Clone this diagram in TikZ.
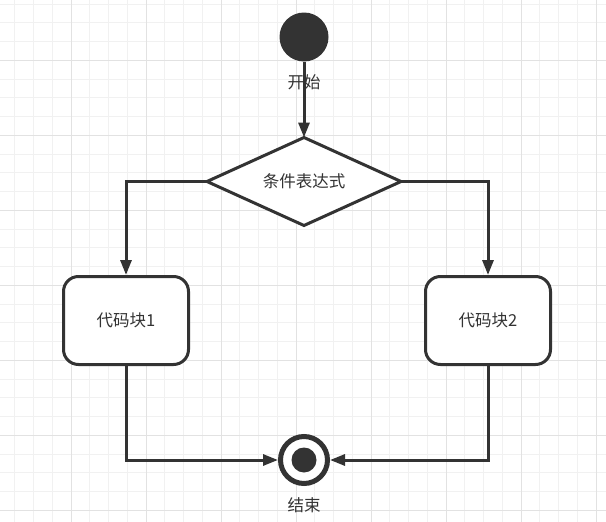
\documentclass[tikz,border=0pt]{standalone}
\usepackage{fontspec}
\newfontfamily\cjk{Noto Sans CJK SC}
\usetikzlibrary{shapes.geometric,arrows.meta}
\definecolor{ink}{HTML}{333333}
\definecolor{gminor}{HTML}{F1F1F1}
\definecolor{gmajor}{HTML}{E2E2E2}
\tikzset{
  lbl/.style={text=ink,font=\cjk\fontsize{16.5}{19}\selectfont,inner sep=0pt},
  startdot/.style={circle,fill=ink,minimum size=49pt,inner sep=0pt},
  decision/.style={diamond,draw=ink,line width=3pt,fill=white,minimum width=194pt,minimum height=88pt,inner sep=0pt,outer sep=0pt},
  block/.style={rectangle,rounded corners=15pt,draw=ink,line width=3pt,fill=white,minimum width=125pt,minimum height=88pt,inner sep=0pt,text=ink,font=\cjk\fontsize{16.5}{19}\selectfont},
  endring/.style={circle,draw=ink,line width=5pt,fill=white,minimum size=47pt,inner sep=0pt},
  enddot/.style={circle,fill=ink,minimum size=25pt,inner sep=0pt},
  conn/.style={draw=ink,line width=3pt,-{Triangle[length=15pt,width=11pt]}},
}
\begin{document}
\begin{tikzpicture}[x=1pt,y=-1pt]
\useasboundingbox (0,0) rectangle (606,522);
\fill[white] (0,0) rectangle (606,522);
\foreach \k in {0,...,31} {\draw[gminor,line width=1pt] (14.75+18.75*\k,0) -- ++(0,522);}
\foreach \k in {0,...,27} {\draw[gminor,line width=1pt] (0,4+18.75*\k) -- ++(606,0);}
\foreach \k in {0,...,7} {\draw[gmajor,line width=1pt] (71+75*\k,0) -- ++(0,522);}
\foreach \k in {0,...,6} {\draw[gmajor,line width=1pt] (0,60.25+75*\k) -- ++(606,0);}

\node[startdot] (start) at (304,37) {};
\node[lbl] (startlbl) at (304,82) {开始};
\node[decision] (cond) at (304,181.5) {};
\node[lbl] (condlbl) at (cond.center) {条件表达式};
\node[block] (b1) at (126,320.5) {代码块1};
\node[block] (b2) at (488,320.5) {代码块2};
\node[endring] (end) at (304,460) {};
\node[enddot] (enddot) at (304,460) {};
\node[lbl] (endlbl) at (304,505) {结束};

\draw[conn] (start) -- (cond.north);
\draw[conn] (cond.west) -| (b1.north);
\draw[conn] (cond.east) -| (b2.north);
\draw[conn] (b1.south) |- (end.west);
\draw[conn] (b2.south) |- (end.east);
\end{tikzpicture}
\end{document}
